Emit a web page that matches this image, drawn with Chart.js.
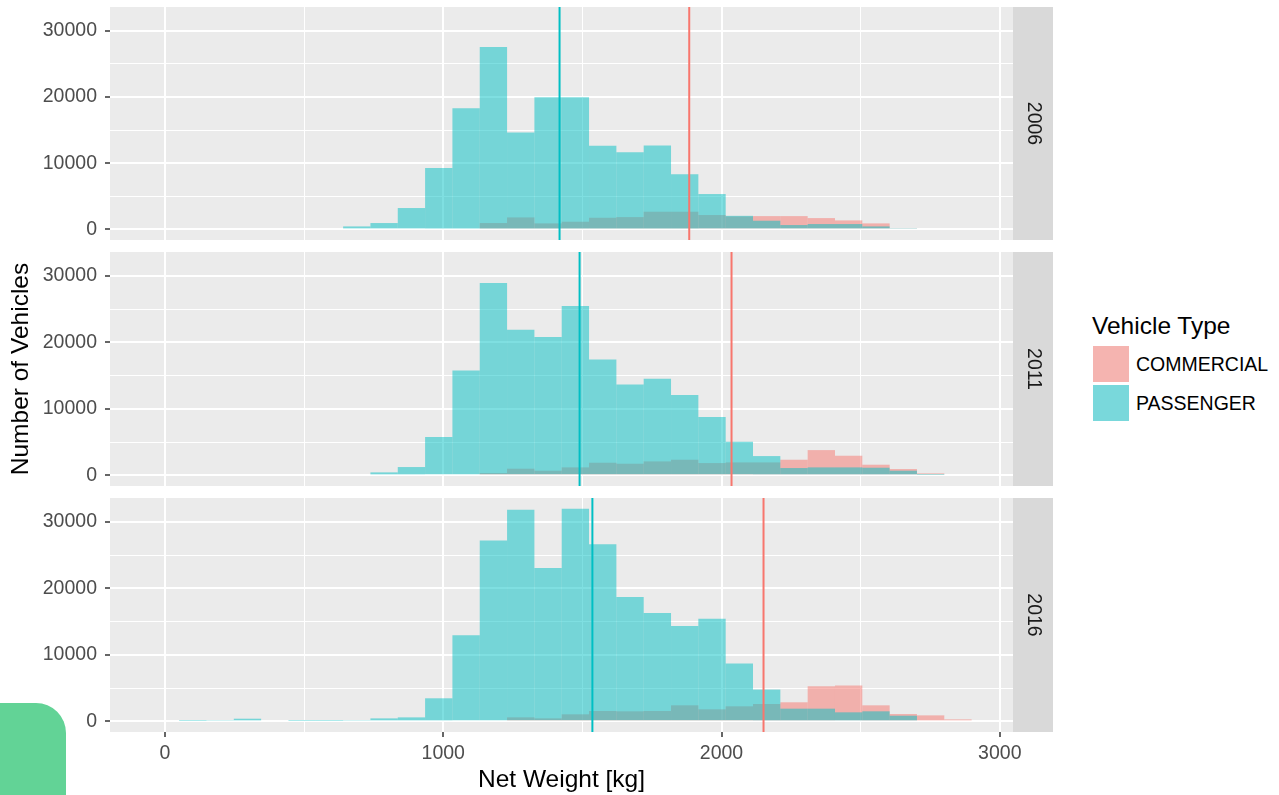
<!DOCTYPE html>
<html>
<head>
<meta charset="utf-8">
<script src="https://cdn.jsdelivr.net/npm/chart.js@4.4.0/dist/chart.umd.min.js"></script>
<style>
  body { margin: 0; background: #fff; width: 1279px; height: 795px; overflow: hidden; position: relative;
         font-family: "Liberation Sans", Arial, sans-serif; }
  .panel { position: absolute; left: 0; }
  .legend-title { position: absolute; left: 1092px; top: 311px; font-size: 24.5px; line-height: 29.4px; color: #000; }
  .key { position: absolute; left: 1093px; width: 36px; height: 36px; }
  .key-label { position: absolute; left: 1136px; font-size: 19.5px; line-height: 36px; color: #000; }
  .blob { position: absolute; left: 0; top: 703px; width: 66px; height: 92px; background: #62D396; border-top-right-radius: 30px; }
</style>
</head>
<body>
<div class="panel" style="top:0px"><canvas id="c2006" width="1060" height="240"></canvas></div>
<div class="panel" style="top:245px"><canvas id="c2011" width="1060" height="241"></canvas></div>
<div class="panel" style="top:491px"><canvas id="c2016" width="1060" height="304"></canvas></div>

<div class="legend-title">Vehicle Type</div>
<div class="key" style="top:346px; background: rgb(245,180,176)"></div>
<div class="key" style="top:385px; background: rgb(121,216,219)"></div>
<div class="key-label" style="top:346px">COMMERCIAL</div>
<div class="key-label" style="top:385px">PASSENGER</div>
<div class="blob"></div>

<script>
// histogram bins (kg): 29 bins of equal width
var binStart = 51;
var binWidth = 98.2;

// counts per bin
var passenger2006 = [0, 0, 0, 0, 0, 0, 450, 960, 3230, 9260, 18300, 27550, 14630, 19970, 19970,
    12620, 11670, 12670, 8350, 5340, 2050, 1310, 660, 810, 810, 450, 100, 0, 0];
var commercial2006 = [0, 0, 0, 0, 0, 0, 0, 0, 0, 0, 0, 960, 1810, 910, 1160,
    1760, 1860, 2670, 2670, 2170, 1950, 2010, 2010, 1710, 1360, 910, 120, 0, 0];

var passenger2011 = [0, 0, 0, 0, 0, 0, 150, 450, 1250, 5760, 15790, 28920, 21900, 20800, 25460,
    17440, 13680, 14530, 12080, 8770, 5050, 2900, 1100, 1200, 1200, 1150, 700, 50, 0];
var commercial2011 = [0, 0, 0, 0, 0, 0, 0, 0, 0, 0, 0, 350, 1000, 700, 1200,
    1900, 1750, 2100, 2350, 1850, 1950, 1950, 2350, 3800, 2950, 1600, 950, 300, 0];

var passenger2016 = [50, 200, 400, 150, 50, 50, 200, 450, 600, 3470, 12970, 27200, 31830, 23080, 31980,
    26650, 18700, 16290, 14330, 15430, 8700, 4780, 1910, 1910, 1360, 1510, 850, 150, 0];
var commercial2016 = [0, 0, 0, 0, 0, 0, 0, 0, 0, 0, 0, 150, 600, 450, 1060,
    1560, 1510, 1560, 2410, 1810, 2260, 2610, 2870, 5280, 5380, 2410, 1100, 900, 300];

// group means (vertical lines)
var years = ['2006', '2011', '2016'];
var meanPassenger = [1418, 1490, 1536];
var meanCommercial = [1884, 2036, 2151];

var xTicks = [0, 500, 1000, 1500, 2000, 2500, 3000];
var yTicks = [0, 5000, 10000, 15000, 20000, 25000, 30000];
var xMin = -197.5, xMax = 3047.5;
var yMin = -1600, yMax = 33600;

var TEAL = '#00BFC4';
var SALMON = '#F8766D';
var FONT = '"Liberation Sans", Arial, sans-serif';

Chart.defaults.font.family = FONT;

function toPoints(counts) {
    return counts.map(function (c, i) {
        return { x: binStart + (i + 0.5) * binWidth, y: c };
    });
}

var panelPlugin = {
    id: 'panel',
    beforeDraw: function (chart, args, opts) {
        var a = chart.chartArea, ctx = chart.ctx;
        ctx.save();
        ctx.fillStyle = '#EBEBEB';
        ctx.fillRect(a.left, a.top, a.right - a.left, a.bottom - a.top);
        ctx.fillStyle = '#D9D9D9';
        ctx.fillRect(a.right, a.top, 40, a.bottom - a.top);
        ctx.translate(a.right + 20, (a.top + a.bottom) / 2);
        ctx.rotate(Math.PI / 2);
        ctx.fillStyle = '#1A1A1A';
        ctx.font = '19.5px ' + FONT;
        ctx.textAlign = 'center';
        ctx.textBaseline = 'middle';
        ctx.fillText(opts.label, 0, 0);
        ctx.restore();
    }
};

function gridWidth(step) {
    return function (ctx) {
        return ctx.tick && ctx.tick.value % step === 0 ? 2 : 1;
    };
}
function tickColor(step) {
    return function (ctx) {
        return ctx.tick && ctx.tick.value % step === 0 ? '#333333' : 'rgba(0,0,0,0)';
    };
}

function makeChart(i, passenger, commercial) {
    var bottom = i === 2;
    var middle = i === 1;
    var ctx = document.getElementById('c' + years[i]).getContext('2d');
    return new Chart(ctx, {
        type: 'bar',
        data: {
            datasets: [{
                label: 'PASSENGER',
                data: toPoints(passenger),
                backgroundColor: 'rgba(0,191,196,0.5)',
                borderWidth: 0,
                inflateAmount: 0,
                grouped: false,
                barPercentage: 1,
                categoryPercentage: 1,
                order: 1
            }, {
                label: 'COMMERCIAL',
                data: toPoints(commercial),
                backgroundColor: 'rgba(248,118,109,0.5)',
                borderWidth: 0,
                inflateAmount: 0,
                grouped: false,
                barPercentage: 1,
                categoryPercentage: 1,
                order: 2
            }, {
                type: 'line',
                label: 'mean passenger',
                data: [{ x: meanPassenger[i], y: yMin }, { x: meanPassenger[i], y: yMax }],
                borderColor: TEAL,
                borderWidth: 2,
                pointRadius: 0,
                fill: false,
                order: 0
            }, {
                type: 'line',
                label: 'mean commercial',
                data: [{ x: meanCommercial[i], y: yMin }, { x: meanCommercial[i], y: yMax }],
                borderColor: SALMON,
                borderWidth: 2,
                pointRadius: 0,
                fill: false,
                order: 0
            }]
        },
        options: {
            responsive: false,
            animation: false,
            layout: { autoPadding: false, padding: { top: 7, right: 47, left: 0, bottom: 0 } },
            plugins: {
                legend: { display: false },
                tooltip: { enabled: false },
                panel: { label: years[i] }
            },
            scales: {
                x: {
                    type: 'linear',
                    min: xMin,
                    max: xMax,
                    offset: false,
                    border: { display: false },
                    afterBuildTicks: function (axis) {
                        axis.ticks = xTicks.map(function (v) { return { value: v }; });
                    },
                    afterFit: function (axis) {
                        axis.height = bottom ? 63 : 0;
                        axis.paddingLeft = 0; axis.paddingRight = 0;
                    },
                    grid: {
                        offset: false,
                        color: '#FFFFFF',
                        lineWidth: gridWidth(1000),
                        drawTicks: bottom,
                        tickLength: 5,
                        tickWidth: 1.5,
                        tickColor: tickColor(1000)
                    },
                    ticks: {
                        display: bottom,
                        autoSkip: false,
                        maxRotation: 0,
                        padding: 5,
                        color: '#4D4D4D',
                        font: { size: 19.5 },
                        callback: function (v) { return v % 1000 === 0 ? String(v) : ''; }
                    },
                    title: {
                        display: bottom,
                        text: 'Net Weight [kg]',
                        color: '#000000',
                        font: { size: 24.5 },
                        padding: { top: 0, bottom: 0 }
                    }
                },
                y: {
                    min: yMin,
                    max: yMax,
                    border: { display: false },
                    afterBuildTicks: function (axis) {
                        axis.ticks = yTicks.map(function (v) { return { value: v }; });
                    },
                    afterFit: function (axis) {
                        axis.width = 110;
                        axis.paddingTop = 0; axis.paddingBottom = 0;
                    },
                    grid: {
                        color: '#FFFFFF',
                        lineWidth: gridWidth(10000),
                        drawTicks: true,
                        tickLength: 5,
                        tickWidth: 1.5,
                        tickColor: tickColor(10000)
                    },
                    ticks: {
                        autoSkip: false,
                        padding: 8,
                        color: '#4D4D4D',
                        font: { size: 19.5 },
                        callback: function (v) { return v % 10000 === 0 ? String(v) : ''; }
                    },
                    title: {
                        display: middle,
                        text: 'Number of Vehicles',
                        color: '#000000',
                        font: { size: 24.5 },
                        padding: { top: 7, bottom: 0 }
                    }
                }
            }
        },
        plugins: [panelPlugin]
    });
}

makeChart(0, passenger2006, commercial2006);
makeChart(1, passenger2011, commercial2011);
makeChart(2, passenger2016, commercial2016);
</script>
</body>
</html>
